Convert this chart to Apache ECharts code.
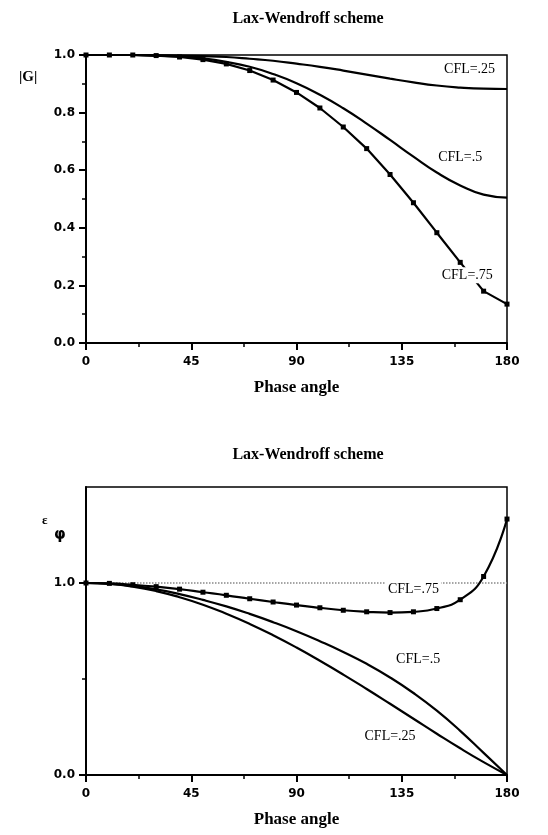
<!DOCTYPE html>
<html><head><meta charset="utf-8">
<script src="https://cdn.jsdelivr.net/npm/echarts@6/dist/echarts.min.js"></script>
<style>html,body{margin:0;padding:0;background:#fff}#c{width:548px;height:835px}</style>
</head><body><div id="c"></div>
<script>
// ---- data ----
const phaseAngles = [0,10,20,30,40,50,60,70,80,90,100,110,120,130,140,150,160,170,180];
const gainCFL25 = [1,1,1,0.999,0.998,0.996,0.993,0.987,0.980,0.970,0.959,0.946,0.932,0.918,0.905,0.894,0.887,0.883,0.882];
const gainCFL50 = [1,1,1,0.998,0.995,0.988,0.976,0.959,0.934,0.902,0.862,0.815,0.762,0.705,0.647,0.592,0.547,0.515,0.505];
const gainCFL75 = [1,1,1,0.998,0.993,0.984,0.969,0.946,0.913,0.870,0.816,0.750,0.675,0.585,0.487,0.383,0.280,0.180,0.135];
const phaseCFL25 = [1,0.995,0.981,0.958,0.926,0.887,0.840,0.787,0.728,0.664,0.595,0.523,0.448,0.371,0.293,0.215,0.139,0.067,0];
const phaseCFL50 = [1,0.996,0.985,0.967,0.942,0.912,0.878,0.839,0.796,0.749,0.697,0.641,0.579,0.508,0.427,0.335,0.230,0.115,0];
const phaseCFL75 = [1,0.998,0.991,0.981,0.968,0.952,0.936,0.918,0.901,0.885,0.871,0.858,0.850,0.846,0.850,0.867,0.913,1.034,1.333];
const xTickLabels = [0,45,90,135,180];
const gainTickLabels = [0,0.2,0.4,0.6,0.8,1.0];
const phaseTickLabels = [0,1.0];
const phaseMinorTicks = [0.5];
const refLine = [1,1];
const refAngles = [0,180];

const pairs = (xs, ys) => xs.map((x,i) => [x, ys[i]]);

const SERIF = '"Liberation Serif","Times New Roman",serif';
const SANS = '"DejaVu Sans","Liberation Sans",sans-serif';

function xAxisCfg(gridIndex){
  return {
    type:'value', gridIndex, min:0, max:180, interval:45,
    axisLine:{show:true, onZero:false, lineStyle:{color:'#000', width:2}},
    axisTick:{show:true, length:7, lineStyle:{color:'#000', width:2}},
    minorTick:{show:true, splitNumber:2, length:4, lineStyle:{color:'#000', width:1.5}},
    splitLine:{show:false},
    axisLabel:{color:'#000', fontFamily:SANS, fontWeight:'bold', fontSize:12, margin:13,
      formatter: v => xTickLabels.includes(v) ? String(v) : ''},
    name:'Phase angle', nameLocation:'middle', nameGap:36,
    nameTextStyle:{color:'#000', fontFamily:SERIF, fontWeight:'bold', fontSize:17}
  };
}

function labelPoint(text, coord){
  return {
    coord, value:text, symbol:'rect', symbolSize:0,
    label:{show:true, position:'inside', formatter:text, color:'#000', fontFamily:SERIF, fontSize:14,
      backgroundColor:'#fff', padding:[1,2]}
  };
}

const chart = echarts.init(document.getElementById('c'), null, {renderer:'canvas'});
chart.setOption({
  animation:false,
  backgroundColor:'#fff',
  title:[
    {text:'Lax-Wendroff scheme', left:303, top:6, textAlign:'center',
      textStyle:{fontFamily:SERIF, fontWeight:'bold', fontSize:16, color:'#000'}},
    {text:'Lax-Wendroff scheme', left:303, top:442, textAlign:'center',
      textStyle:{fontFamily:SERIF, fontWeight:'bold', fontSize:16, color:'#000'}}
  ],
  grid:[
    {left:86, width:421, top:55, height:288, show:true, borderColor:'#000', borderWidth:1.5},
    {left:86, width:421, top:487, height:288, show:true, borderColor:'#000', borderWidth:1.5}
  ],
  xAxis:[xAxisCfg(0), xAxisCfg(1)],
  yAxis:[
    {type:'value', gridIndex:0, position:'left', min:0, max:1, interval:0.2,
      axisLine:{show:true, lineStyle:{color:'#000', width:2}},
      axisTick:{show:true, length:7, lineStyle:{color:'#000', width:2}},
      minorTick:{show:true, splitNumber:2, length:4, lineStyle:{color:'#000', width:1.5}},
      splitLine:{show:false},
      axisLabel:{color:'#000', fontFamily:SANS, fontWeight:'bold', fontSize:12, margin:11,
        formatter: v => gainTickLabels.some(t => Math.abs(t-v)<1e-9) ? v.toFixed(1) : ''}},
    {type:'value', gridIndex:1, position:'left', min:0, max:1.5, interval:0.5,
      axisLine:{show:true, lineStyle:{color:'#000', width:2}},
      axisTick:{show:true, length:7, customValues:phaseTickLabels, lineStyle:{color:'#000', width:2}},
      splitLine:{show:false},
      axisLabel:{color:'#000', fontFamily:SANS, fontWeight:'bold', fontSize:12, margin:11,
        customValues:phaseTickLabels, formatter: v => v.toFixed(1)}},
    {type:'value', gridIndex:1, position:'left', offset:0, min:0, max:1.5, interval:0.5,
      axisLine:{show:false},
      axisTick:{show:true, length:4, customValues:phaseMinorTicks, lineStyle:{color:'#000', width:1.5}},
      splitLine:{show:false},
      axisLabel:{show:false}}
  ],
  graphic:[
    {type:'text', left:19, top:70, style:{text:'|G|', font:'bold 15px '+SERIF, fill:'#000'}},
    {type:'text', left:42, top:514, style:{text:'ε', font:'bold 13px '+SERIF, fill:'#000'}},
    {type:'text', left:54, top:528, style:{text:'φ', font:'bold 15px '+SANS, fill:'#000'}}
  ],
  series:[
    {type:'line', xAxisIndex:0, yAxisIndex:0, smooth:true, showSymbol:false, z:3,
      lineStyle:{color:'#000', width:2.2}, data:pairs(phaseAngles, gainCFL25),
      markPoint:{silent:true, data:[labelPoint('CFL=.25',[164,0.95])]}},
    {type:'line', xAxisIndex:0, yAxisIndex:0, smooth:true, showSymbol:false, z:3,
      lineStyle:{color:'#000', width:2.2}, data:pairs(phaseAngles, gainCFL50),
      markPoint:{silent:true, data:[labelPoint('CFL=.5',[160,0.645])]}},
    {type:'line', xAxisIndex:0, yAxisIndex:0, smooth:false, symbol:'rect', symbolSize:5, z:3,
      itemStyle:{color:'#000'}, lineStyle:{color:'#000', width:2.2}, data:pairs(phaseAngles, gainCFL75),
      markPoint:{silent:true, data:[labelPoint('CFL=.75',[163,0.235])]}},

    {type:'line', xAxisIndex:1, yAxisIndex:1, showSymbol:false, z:2,
      lineStyle:{color:'#888', width:1.5, type:'dotted'}, data:pairs(refAngles, refLine)},
    {type:'line', xAxisIndex:1, yAxisIndex:1, smooth:true, showSymbol:false, z:3,
      lineStyle:{color:'#000', width:2.2}, data:pairs(phaseAngles, phaseCFL25),
      markPoint:{silent:true, data:[labelPoint('CFL=.25',[130,0.2])]}},
    {type:'line', xAxisIndex:1, yAxisIndex:1, smooth:true, showSymbol:false, z:3,
      lineStyle:{color:'#000', width:2.2}, data:pairs(phaseAngles, phaseCFL50),
      markPoint:{silent:true, data:[labelPoint('CFL=.5',[142,0.6])]}},
    {type:'line', xAxisIndex:1, yAxisIndex:1, smooth:true, symbol:'rect', symbolSize:5, z:3,
      itemStyle:{color:'#000'}, lineStyle:{color:'#000', width:2.2}, data:pairs(phaseAngles, phaseCFL75),
      markPoint:{silent:true, data:[labelPoint('CFL=.75',[140,0.965])]}}
  ]
});
</script></body></html>
